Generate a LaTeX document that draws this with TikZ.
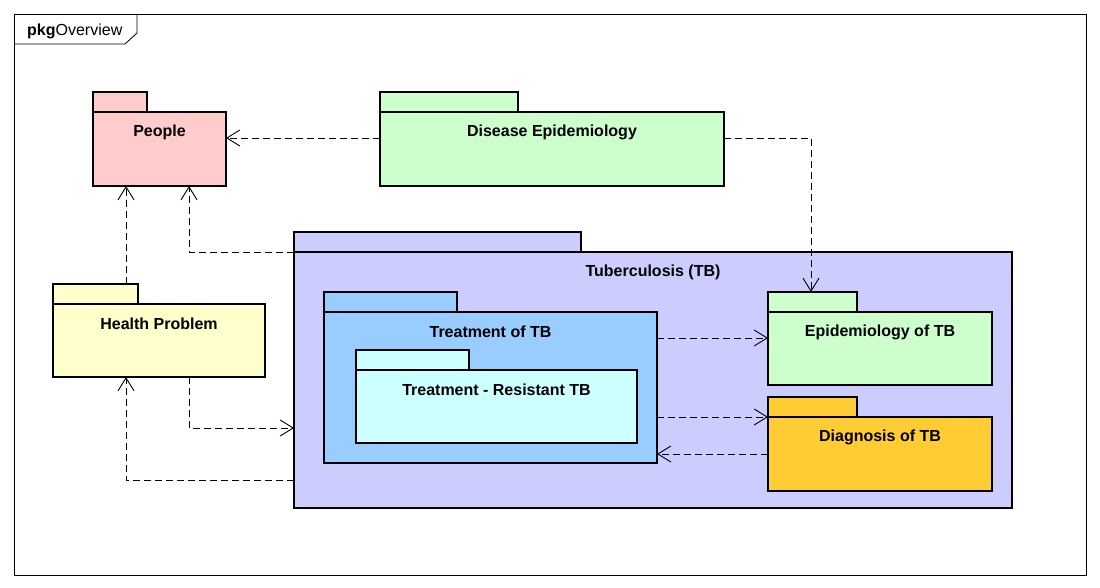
\documentclass[tikz,border=0pt]{standalone}
\usepackage{fontspec}
\setmainfont{Liberation Sans}
\usepackage{xcolor}
\usetikzlibrary{arrows.meta, positioning}
\definecolor{peoplec}{HTML}{FFCCCC}
\definecolor{greenc}{HTML}{CCFFCC}
\definecolor{tbc}{HTML}{CCCCFF}
\definecolor{healthc}{HTML}{FFFFCC}
\definecolor{treatc}{HTML}{99CCFF}
\definecolor{resistc}{HTML}{CCFFFF}
\definecolor{diagc}{HTML}{FFCC33}
\begin{document}
\begin{tikzpicture}[x=1pt, y=-1pt,
    pkg/.style={draw, line width=2.5pt, anchor=north west, inner sep=0pt, outer sep=0pt},
    tab/.style={draw, line width=2.5pt, anchor=south west, inner sep=0pt, outer sep=0pt, minimum height=20pt},
    title/.style={anchor=center, yshift=-20pt, font=\fontsize{16}{18}\selectfont\bfseries},
    dep/.style={dash pattern=on 7pt off 4pt, line width=0.9pt, -{Straight Barb[length=13pt, width=16pt, line width=0.9pt]}}]
        \useasboundingbox (0,0) rectangle (1100,588);
        % frame
        \draw[line width=0.8pt] (14,14) rectangle (1086,575);
        \draw[line width=0.8pt] (14,44) -- (125,44) -- (137,33) -- (137,14);
        \node[anchor=west, inner sep=0pt, font=\fontsize{16}{18}\selectfont] (frame) at (27,31) {\textbf{pkg}Overview};

        % packages
        \node[pkg, fill=peoplec, minimum width=133pt, minimum height=74pt, label={[title]north:People}] (people) at (93,112) {};
        \node[tab, fill=peoplec, minimum width=54pt] (peopletab) at (people.north west) {};

        \node[pkg, fill=greenc, minimum width=344pt, minimum height=74pt, label={[title]north:Disease Epidemiology}] (dis) at (380,112) {};
        \node[tab, fill=greenc, minimum width=138pt] (distab) at (dis.north west) {};

        \node[pkg, fill=tbc, minimum width=718pt, minimum height=256pt, label={[title]north:Tuberculosis (TB)}] (tb) at (294,252) {};
        \node[tab, fill=tbc, minimum width=287pt] (tbtab) at (tb.north west) {};

        \node[pkg, fill=healthc, minimum width=212pt, minimum height=73pt, label={[title]north:Health Problem}] (health) at (53,304) {};
        \node[tab, fill=healthc, minimum width=85pt] (healthtab) at (health.north west) {};

        \node[pkg, fill=treatc, minimum width=333pt, minimum height=151pt, label={[title]north:Treatment of TB}] (treat) at (324,312) {};
        \node[tab, fill=treatc, minimum width=133pt] (treattab) at (treat.north west) {};

        \node[pkg, fill=resistc, minimum width=281pt, minimum height=73pt, label={[title]north:Treatment - Resistant TB}] (resist) at (356,370) {};
        \node[tab, fill=resistc, minimum width=113pt] (resisttab) at (resist.north west) {};

        \node[pkg, fill=greenc, minimum width=224pt, minimum height=73pt, label={[title]north:Epidemiology of TB}] (epi) at (768,312) {};
        \node[tab, fill=greenc, minimum width=89pt] (epitab) at (epi.north west) {};

        \node[pkg, fill=diagc, minimum width=224pt, minimum height=74pt, label={[title]north:Diagnosis of TB}] (diag) at (768,417) {};
        \node[tab, fill=diagc, minimum width=89pt] (diagtab) at (diag.north west) {};

        % dependencies
        \coordinate (d1) at ([yshift=11pt]dis.west);
        \coordinate (d2) at ([yshift=11pt]dis.east);
        \coordinate (t1) at ([yshift=49.5pt]treat.east);
        \draw[dep] (d1) -- (d1 -| people.east);
        \draw[dep] (d2) -| ([xshift=43pt]epitab.north west);
        \draw[dep] (tb.north west) -| ([xshift=96pt]people.south west);
        \draw[dep] ([xshift=73pt]healthtab.north west) -- ([xshift=33pt]people.south west);
        \draw[dep] ([xshift=136pt]health.south west) |- ([yshift=-48pt]tb.west);
        \draw[dep] ([yshift=-100pt]tb.west) -| ([xshift=73pt]health.south west);
        \draw[dep] (t1) -- (t1 -| epi.west);
        \draw[dep] (diag.north west -| treat.east) -- (diag.north west);
        \draw[dep] (diag.west) -- (diag.west -| treat.east);
\end{tikzpicture}
\end{document}
